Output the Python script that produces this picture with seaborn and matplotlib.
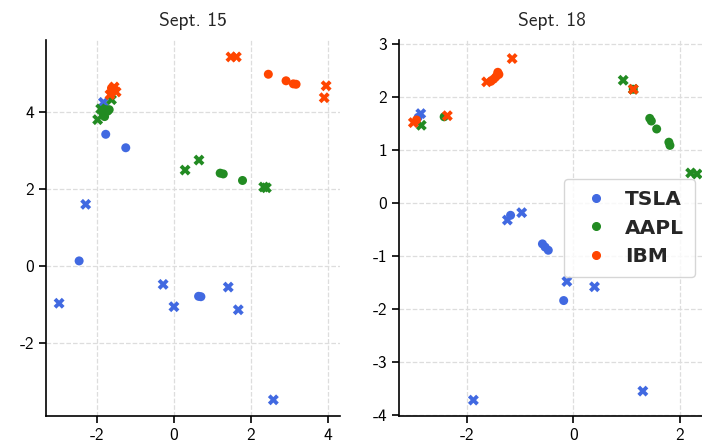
import pandas as pd
import matplotlib.pyplot as plt
from matplotlib.lines import Line2D
import seaborn as sns

# ----------------------------------------------
# data
# ----------------------------------------------
days = ["Sept. 15", "Sept. 18"]
stocks = ["TSLA", "AAPL", "IBM"]
colors = ["royalblue", "forestgreen", "orangered"]

# Sept. 15 - circles (o) and crosses (x)
sep15_tsla_o_x = [-1.77, -1.25, -2.46, 0.64, 0.70]
sep15_tsla_o_y = [3.42, 3.07, 0.13, -0.79, -0.80]
sep15_tsla_x_x = [-2.29, -1.83, -2.98, -0.28, 0.00, 1.41, 1.67, 2.58]
sep15_tsla_x_y = [1.60, 4.25, -0.97, -0.48, -1.06, -0.55, -1.14, -3.48]
sep15_aapl_o_x = [-1.85, -1.78, -1.72, -1.80, -1.68, 1.20, 1.28, 1.78]
sep15_aapl_o_y = [3.98, 4.06, 4.02, 3.88, 4.06, 2.41, 2.39, 2.22]
sep15_aapl_x_x = [-1.98, -1.90, -1.62, 0.29, 0.65, 2.33, 2.40]
sep15_aapl_x_y = [3.80, 4.08, 4.32, 2.49, 2.75, 2.05, 2.03]
sep15_ibm_o_x = [-1.60, -1.55, -1.62, 2.45, 2.91, 3.10, 3.17]
sep15_ibm_o_y = [4.55, 4.60, 4.62, 4.98, 4.81, 4.73, 4.72]
sep15_ibm_x_x = [-1.55, -1.66, -1.50, 1.48, 1.62, 3.95, 3.90]
sep15_ibm_x_y = [4.65, 4.45, 4.52, 5.43, 5.43, 4.68, 4.37]

# Sept. 18
sep18_tsla_o_x = [-2.92, -1.18, -0.58, -0.53, -0.47, -0.18]
sep18_tsla_o_y = [1.62, -0.23, -0.77, -0.83, -0.89, -1.84]
sep18_tsla_x_x = [-2.87, -1.24, -0.97, -0.12, 0.40, -1.88, 1.31]
sep18_tsla_x_y = [1.69, -0.32, -0.18, -1.48, -1.58, -3.72, -3.55]
sep18_aapl_o_x = [-2.43, 1.13, 1.44, 1.47, 1.57, 1.80, 1.82]
sep18_aapl_o_y = [1.63, 2.15, 1.60, 1.55, 1.40, 1.15, 1.09]
sep18_aapl_x_x = [-2.86, 0.94, 1.13, 2.21, 2.33]
sep18_aapl_x_y = [1.47, 2.32, 2.15, 0.57, 0.55]
sep18_ibm_o_x = [-2.95, -1.55, -1.50, -1.46, -1.43, -1.42, -1.40]
sep18_ibm_o_y = [1.57, 2.30, 2.34, 2.38, 2.42, 2.47, 2.43]
sep18_ibm_x_x = [-3.01, -2.37, -1.63, -1.15, 1.13]
sep18_ibm_x_y = [1.52, 1.65, 2.29, 2.73, 2.15]

xticks_15 = [-2, 0, 2, 4]
yticks_15 = [-2, 0, 2, 4]
xticks_18 = [-2, 0, 2]
yticks_18 = [-4, -3, -2, -1, 0, 1, 2, 3]

# ----------------------------------------------
# long table for seaborn
# ----------------------------------------------
series = [
    ("Sept. 15", "TSLA", "o", sep15_tsla_o_x, sep15_tsla_o_y),
    ("Sept. 15", "TSLA", "x", sep15_tsla_x_x, sep15_tsla_x_y),
    ("Sept. 15", "AAPL", "o", sep15_aapl_o_x, sep15_aapl_o_y),
    ("Sept. 15", "AAPL", "x", sep15_aapl_x_x, sep15_aapl_x_y),
    ("Sept. 15", "IBM", "o", sep15_ibm_o_x, sep15_ibm_o_y),
    ("Sept. 15", "IBM", "x", sep15_ibm_x_x, sep15_ibm_x_y),
    ("Sept. 18", "TSLA", "o", sep18_tsla_o_x, sep18_tsla_o_y),
    ("Sept. 18", "TSLA", "x", sep18_tsla_x_x, sep18_tsla_x_y),
    ("Sept. 18", "AAPL", "o", sep18_aapl_o_x, sep18_aapl_o_y),
    ("Sept. 18", "AAPL", "x", sep18_aapl_x_x, sep18_aapl_x_y),
    ("Sept. 18", "IBM", "o", sep18_ibm_o_x, sep18_ibm_o_y),
    ("Sept. 18", "IBM", "x", sep18_ibm_x_x, sep18_ibm_x_y),
]
frames = []
for day, stock, kind, xs, ys in series:
    frames.append(pd.DataFrame({"day": day, "stock": stock, "kind": kind, "x": xs, "y": ys}))
df = pd.concat(frames, ignore_index=True)

# ----------------------------------------------
# style
# ----------------------------------------------
sns.set_theme(style="ticks")
plt.rcParams['font.family'] = ['cmss10', 'DejaVu Sans']
plt.rcParams['axes.unicode_minus'] = False
plt.rcParams['axes.edgecolor'] = 'black'
plt.rcParams['axes.linewidth'] = 1.2
plt.rcParams['xtick.color'] = 'black'
plt.rcParams['ytick.color'] = 'black'

fig = plt.figure(figsize=(7.02, 4.44), dpi=100)
ax1 = fig.add_axes([46 / 702, 28 / 444, 294 / 702, 376 / 444])
ax2 = fig.add_axes([399 / 702, 28 / 444, 306 / 702, 376 / 444])

palette = dict(zip(stocks, colors))
limits = {
    "Sept. 15": ((-3.32, 4.31), (-3.9, 5.87), xticks_15, yticks_15),
    "Sept. 18": ((-3.28, 2.48), (-4.02, 3.08), xticks_18, yticks_18),
}

for ax, day in zip([ax1, ax2], days):
    sub = df[df["day"] == day]
    sns.scatterplot(
        data=sub, x="x", y="y", hue="stock", style="kind", size="kind",
        hue_order=stocks, style_order=["o", "x"], markers={"o": "o", "x": "X"},
        sizes={"o": 42, "x": 62}, palette=palette, linewidth=0,
        legend=False, ax=ax, zorder=3
    )
    xl, yl, xt, yt = limits[day]
    ax.set_xlim(*xl)
    ax.set_ylim(*yl)
    ax.set_xticks(xt)
    ax.set_yticks(yt)
    ax.set_xlabel("")
    ax.set_ylabel("")
    ax.set_title(day, fontsize=14, pad=10)
    ax.tick_params(labelsize=12.5, length=5, width=1.2)
    ax.grid(True, linestyle="--", color="#dddddd", linewidth=0.9)
    ax.set_axisbelow(True)
    sns.despine(ax=ax)

# legend with circles only
handles = [Line2D([], [], marker="o", ls="", color=c, markersize=5.5) for c in colors]
leg = ax2.legend(handles, stocks, loc="center right",
                 prop={"family": "DejaVu Sans", "weight": "bold", "size": 14.5},
                 frameon=True, borderpad=0.55, handletextpad=0.45, labelspacing=0.45)
leg.get_frame().set_edgecolor("#cccccc")

fig.savefig("out.png", dpi=100)
